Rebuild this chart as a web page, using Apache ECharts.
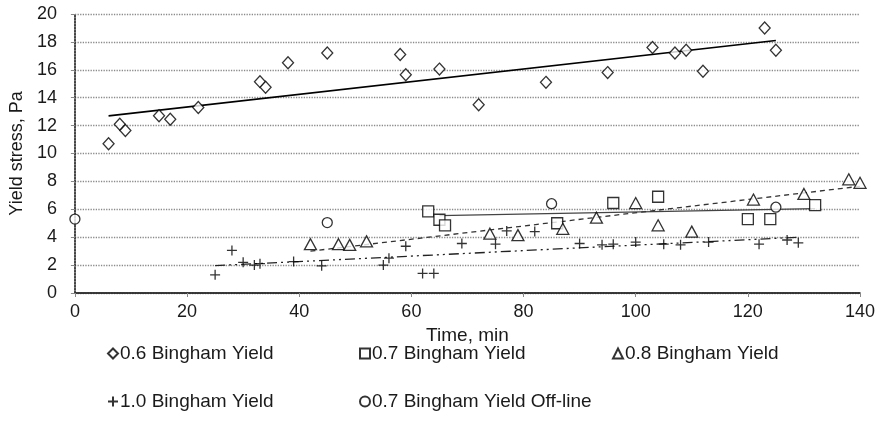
<!DOCTYPE html>
<html><head><meta charset="utf-8">
<script src="https://cdn.jsdelivr.net/npm/echarts@6/dist/echarts.min.js"></script>
<style>html,body{margin:0;padding:0;background:#fff}#c{width:880px;height:441px}</style>
</head><body><div id="c"></div>
<script>
// ---- data ----
const xTicks = [0,20,40,60,80,100,120,140];
const yTicks = [0,2,4,6,8,10,12,14,16,18,20];

const b06X = [6,8,9,15,17,22,33,34,38,45,58,59,65,72,84,95,103,107,109,112,123,125];
const b06Y = [10.7,12.1,11.65,12.7,12.45,13.3,15.15,14.75,16.5,17.2,17.1,15.65,16.05,13.5,15.1,15.8,17.6,17.2,17.4,15.9,19.0,17.4];

const b07X = [63,65,66,86,96,104,120,124,132];
const b07Y = [5.85,5.25,4.85,5.0,6.45,6.9,5.3,5.3,6.3];

const b08X = [42,47,49,52,74,79,87,93,100,104,110,121,130,138,140];
const b08Y = [3.5,3.5,3.45,3.7,4.25,4.15,4.6,5.4,6.45,4.85,4.4,6.7,7.1,8.15,7.9];

const b10X = [25,28,30,32,33,39,44,55,56,59,62,64,69,75,77,82,90,94,96,100,105,108,113,122,127,129];
const b10Y = [1.3,3.05,2.2,2.0,2.1,2.25,1.95,2.0,2.5,3.35,1.4,1.4,3.55,3.5,4.45,4.4,3.55,3.45,3.5,3.65,3.5,3.45,3.65,3.5,3.8,3.6];

const offX = [0,45,85,125];
const offY = [5.3,5.05,6.4,6.15];

// trend line end points
const t06X = [6,125],  t06Y = [12.7,18.1];
const t07X = [65,132], t07Y = [5.55,6.05];
const t08X = [42,140], t08Y = [3.0,7.65];
const t10X = [25,129], t10Y = [1.96,4.0];

const names = ['0.6 Bingham Yield','0.7 Bingham Yield','0.8 Bingham Yield','1.0 Bingham Yield','0.7 Bingham Yield Off-line'];

// ---- build ----
const zip = (a,b) => a.map((v,i)=>[v,b[i]]);
const FONT = 'Liberation Sans, Arial, sans-serif';
const TXT = '#1a1a1a';
const mk = {color:'#fff', borderColor:'#000', borderWidth:1.3};
const plusPath = 'path://M5,0L5,10M0,5L10,5';

function scatter(name, x, y, symbol, size){
  return {type:'scatter', name, data: zip(x,y), symbol, symbolSize:size,
    itemStyle: symbol===plusPath ? {color:'#000', borderColor:'#000', borderWidth:1.3} : mk,
    z:5, animation:false};
}
function trend(x,y,style){
  return {type:'line', data: zip(x,y), symbol:'none', lineStyle:style, silent:true, z:3, animation:false, legendHoverLink:false};
}
function legend(name, left, top){
  return {data:[name], left, top, itemWidth:10, itemHeight:10, itemGap:0,
    textStyle:{fontFamily:FONT, fontSize:19, color:TXT, padding:[0,0,0,-3]}, selectedMode:false};
}

const option = {
  backgroundColor:'#fff',
  animation:false,
  grid:{left:71, right:20, top:14, bottom:148},
  legend:[
    legend(names[0],102,339), legend(names[1],354,339), legend(names[2],607,339),
    legend(names[3],102,387), legend(names[4],354,387)
  ],
  xAxis:[{
    type:'value', min:0, max:140, interval:20,
    name:'Time, min', nameLocation:'middle', nameGap:23,
    nameTextStyle:{fontFamily:FONT, fontSize:19, color:TXT},
    axisLine:{show:true, lineStyle:{color:'#999', type:'dotted', width:1.5}},
    axisTick:{show:true, length:4, lineStyle:{color:'#888'}},
    axisLabel:{fontFamily:FONT, fontSize:18, color:TXT, margin:10,
      formatter:v=> xTicks.includes(v)? String(v):''},
    splitLine:{show:false}
  },{
    type:'value', min:0, max:140, position:'top',
    axisLine:{show:true, lineStyle:{color:'#111', width:1.5}},
    axisTick:{show:false}, axisLabel:{show:false}, splitLine:{show:false}
  }],
  yAxis:[{
    type:'value', min:0, max:20, interval:2,
    name:'Yield stress, Pa', nameLocation:'middle', nameGap:47,
    nameTextStyle:{fontFamily:FONT, fontSize:18, color:TXT},
    axisLine:{show:true, lineStyle:{color:'#999', type:'dotted', width:1.5}},
    axisTick:{show:true, length:4, lineStyle:{color:'#888'}},
    axisLabel:{fontFamily:FONT, fontSize:18, color:TXT, margin:18,
      formatter:v=> yTicks.includes(v)? String(v):''},
    splitLine:{show:true, lineStyle:{color:'#8a8a8a', type:'dotted', width:1.3}}
  },{
    type:'value', min:0, max:20, position:'right',
    axisLine:{show:true, lineStyle:{color:'#222', type:'dotted', width:1.5}},
    axisTick:{show:false}, axisLabel:{show:false}, splitLine:{show:false}
  }],
  series:[
    trend(t06X,t06Y,{color:'#000', width:1.6, type:'solid'}),
    trend(t07X,t07Y,{color:'#444', width:1.2, type:'solid'}),
    trend(t08X,t08Y,{color:'#333', width:1.3, type:[5,4]}),
    trend(t10X,t10Y,{color:'#222', width:1.3, type:[10,4,2,4,2,4]}),
    scatter(names[0], b06X, b06Y, 'diamond', [11,12]),
    scatter(names[1], b07X, b07Y, 'rect', 11),
    scatter(names[2], b08X, b08Y, 'triangle', [12,11]),
    scatter(names[3], b10X, b10Y, plusPath, 10),
    scatter(names[4], offX, offY, 'circle', 10)
  ]
};
const chart = echarts.init(document.getElementById('c'), null, {renderer:'canvas'});
chart.setOption(option);
</script></body></html>
